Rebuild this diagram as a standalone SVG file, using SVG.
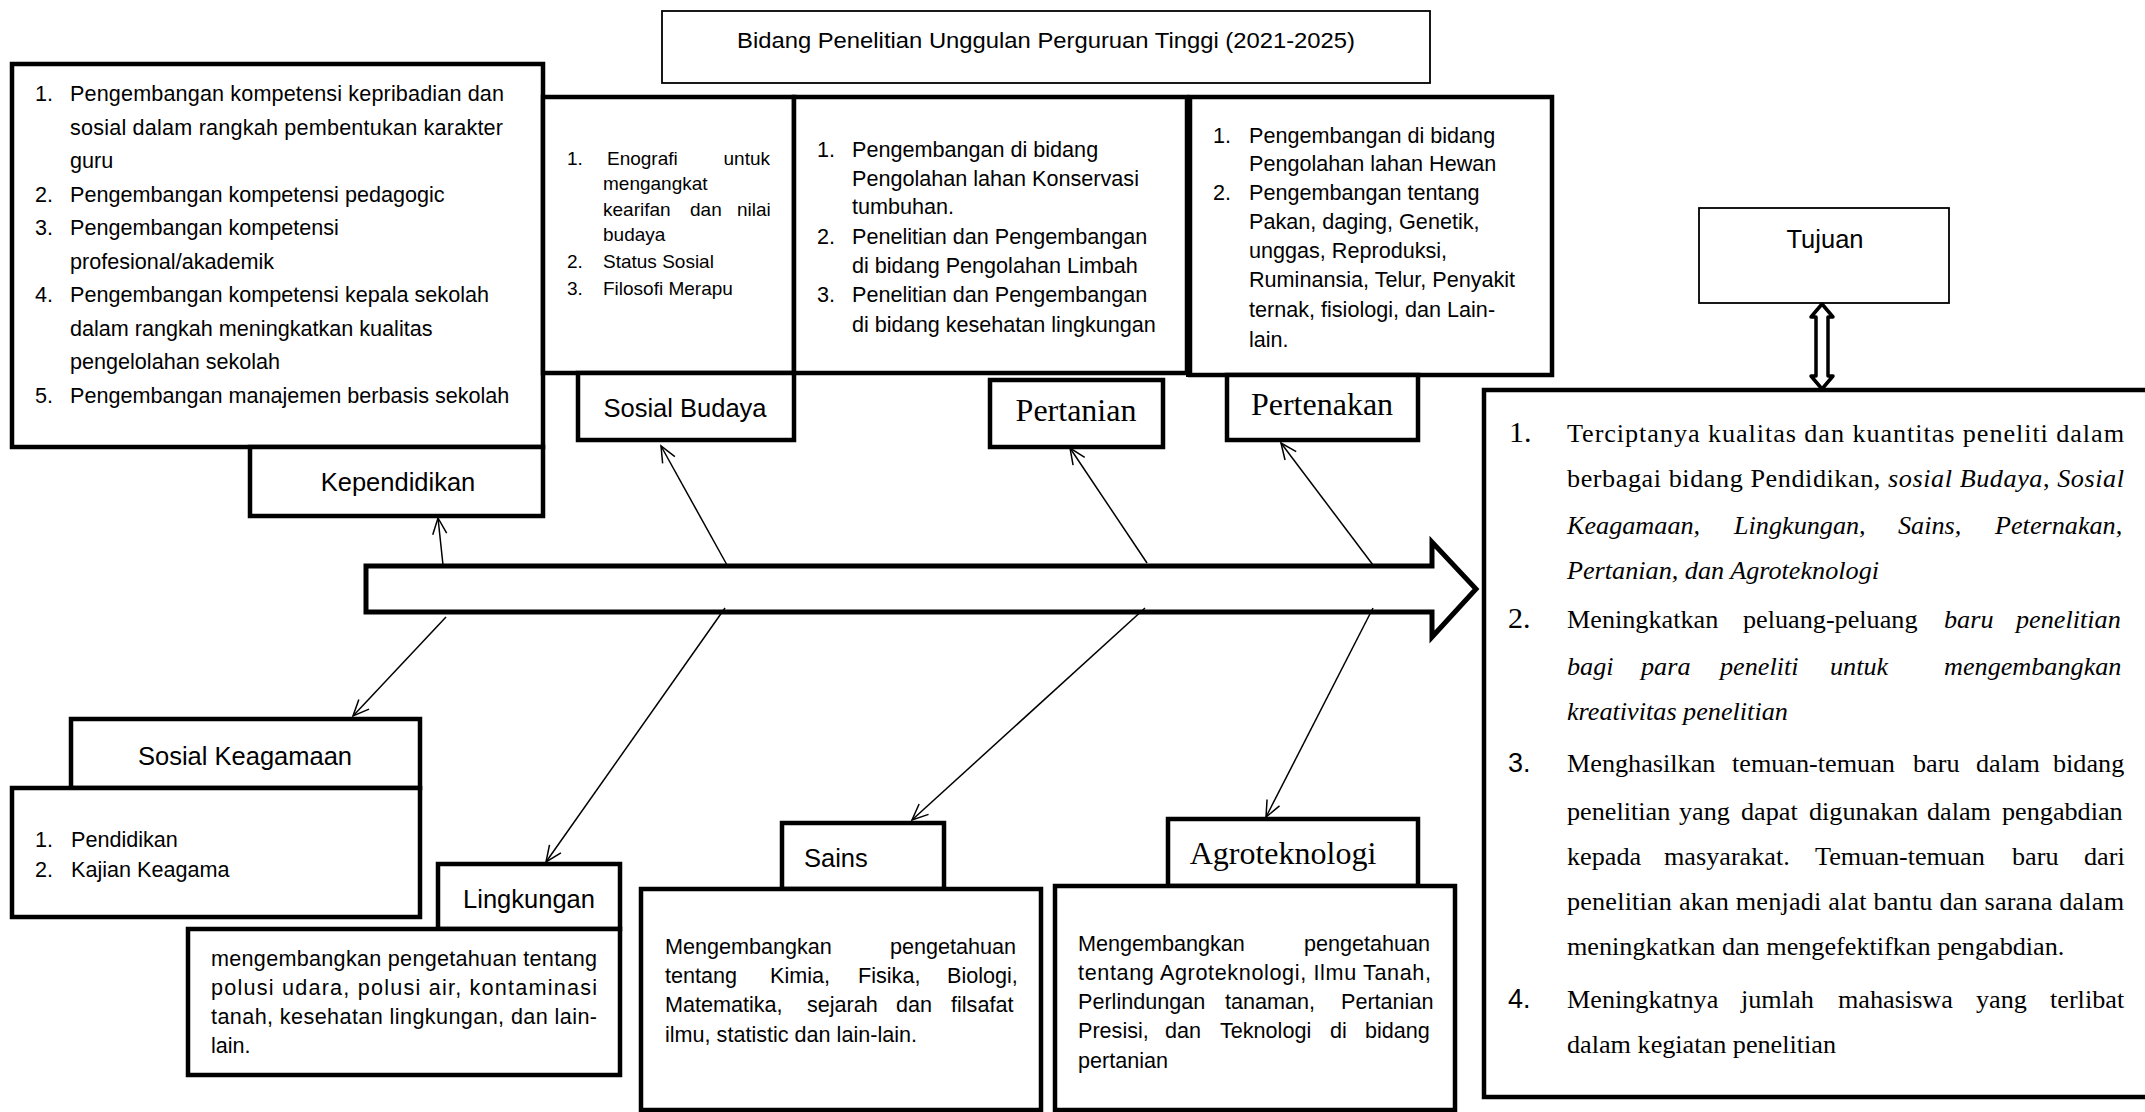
<svg xmlns="http://www.w3.org/2000/svg" width="2145" height="1112" viewBox="0 0 2145 1112">
<style>
.bx{fill:#fff;stroke:#000;stroke-width:4.5}
.th{fill:#fff;stroke:#000;stroke-width:1.8}
.t{font-family:'Liberation Sans',Arial,sans-serif;font-size:21.6px;fill:#000}
.ts{font-family:'Liberation Sans',Arial,sans-serif;font-size:19px;fill:#000}
.lb{font-family:'Liberation Sans',Arial,sans-serif;font-size:25.5px;fill:#000;text-anchor:middle}
.ls{font-family:'Liberation Serif','Times New Roman',serif;font-size:32px;fill:#000;text-anchor:middle}
.r{font-family:'Liberation Serif','Times New Roman',serif;font-size:26.2px;fill:#000}
.i{font-style:italic}
.n1{font-family:'Liberation Serif','Times New Roman',serif;font-size:30px;fill:#000}
.n2{font-family:'Liberation Sans',Arial,sans-serif;font-size:27px;fill:#000}
.cn{stroke:#000;stroke-width:1.5;fill:none}
</style>
<defs>
<marker id="ah" viewBox="-18 -9 20 18" refX="0" refY="0" markerWidth="20" markerHeight="18" markerUnits="userSpaceOnUse" orient="auto">
<path d="M-16,-7 L0,0 L-16,7" fill="none" stroke="#000" stroke-width="1.5"/>
</marker>
</defs>

<g id="title">
<rect class="th" x="662" y="11" width="768" height="72"/>
<text class="t" x="1046" y="48" text-anchor="middle" textLength="618" lengthAdjust="spacingAndGlyphs">Bidang Penelitian Unggulan Perguruan Tinggi (2021-2025)</text>
</g>

<g id="kependidikan-list">
<rect class="bx" x="12" y="64" width="531" height="383"/>
<text class="t" x="35" y="101">1.</text><text class="t" x="70" y="101" textLength="434" lengthAdjust="spacing">Pengembangan kompetensi kepribadian dan</text>
<text class="t" x="70" y="134.5" textLength="433" lengthAdjust="spacing">sosial dalam rangkah pembentukan karakter</text>
<text class="t" x="70" y="168">guru</text>
<text class="t" x="35" y="201.5">2.</text><text class="t" x="70" y="201.5">Pengembangan kompetensi pedagogic</text>
<text class="t" x="35" y="235">3.</text><text class="t" x="70" y="235">Pengembangan kompetensi</text>
<text class="t" x="70" y="268.5">profesional/akademik</text>
<text class="t" x="35" y="302">4.</text><text class="t" x="70" y="302">Pengembangan kompetensi kepala sekolah</text>
<text class="t" x="70" y="335.5">dalam rangkah meningkatkan kualitas</text>
<text class="t" x="70" y="369">pengelolahan sekolah</text>
<text class="t" x="35" y="402.5">5.</text><text class="t" x="70" y="402.5">Pengembangan manajemen berbasis sekolah</text>
</g>
<g id="kependidikan">
<rect class="bx" x="250" y="447" width="293" height="69"/>
<text class="lb" x="398" y="491">Kependidikan</text>
</g>

<g id="sosial-budaya-list">
<rect class="bx" x="543" y="97" width="251" height="276"/>
<text class="ts" x="567" y="165">1.</text><text class="ts" y="165"><tspan x="607">Enografi</tspan><tspan x="723.5">untuk</tspan></text>
<text class="ts" x="603" y="190">mengangkat</text>
<text class="ts" y="216"><tspan x="603">kearifan</tspan><tspan x="690">dan</tspan><tspan x="737">nilai</tspan></text>
<text class="ts" x="603" y="241">budaya</text>
<text class="ts" x="567" y="268">2.</text><text class="ts" x="603" y="268">Status Sosial</text>
<text class="ts" x="567" y="295">3.</text><text class="ts" x="603" y="295">Filosofi Merapu</text>
</g>
<g id="sosial-budaya">
<rect class="bx" x="578" y="373" width="216" height="67"/>
<text class="lb" x="685" y="417">Sosial Budaya</text>
</g>

<g id="pertanian-list">
<rect class="bx" x="794" y="97" width="393" height="276"/>
<text class="t" x="817" y="157">1.</text><text class="t" x="852" y="157">Pengembangan di bidang</text>
<text class="t" x="852" y="186">Pengolahan lahan Konservasi</text>
<text class="t" x="852" y="214">tumbuhan.</text>
<text class="t" x="817" y="244">2.</text><text class="t" x="852" y="244">Penelitian dan Pengembangan</text>
<text class="t" x="852" y="273">di bidang Pengolahan Limbah</text>
<text class="t" x="817" y="302">3.</text><text class="t" x="852" y="302">Penelitian dan Pengembangan</text>
<text class="t" x="852" y="332">di bidang kesehatan lingkungan</text>
</g>
<g id="pertanian">
<rect class="bx" x="990" y="380" width="173" height="67"/>
<text class="ls" x="1076" y="421">Pertanian</text>
</g>

<g id="pertenakan-list">
<rect class="bx" x="1190" y="97" width="362" height="278"/>
<line x1="1189" y1="95" x2="1189" y2="377" stroke="#000" stroke-width="6"/>
<text class="t" x="1213" y="143">1.</text><text class="t" x="1249" y="143">Pengembangan di bidang</text>
<text class="t" x="1249" y="171">Pengolahan lahan Hewan</text>
<text class="t" x="1213" y="200">2.</text><text class="t" x="1249" y="200">Pengembangan tentang</text>
<text class="t" x="1249" y="229">Pakan, daging, Genetik,</text>
<text class="t" x="1249" y="258">unggas, Reproduksi,</text>
<text class="t" x="1249" y="287">Ruminansia, Telur, Penyakit</text>
<text class="t" x="1249" y="317">ternak, fisiologi, dan Lain-</text>
<text class="t" x="1249" y="347">lain.</text>
</g>
<g id="pertenakan">
<rect class="bx" x="1227" y="375" width="191" height="65"/>
<text class="ls" x="1322" y="415">Pertenakan</text>
</g>

<g id="tujuan">
<rect class="th" x="1699" y="208" width="250" height="95"/>
<text class="lb" x="1825" y="248">Tujuan</text>
</g>

<g id="tujuan-list">
<rect class="bx" x="1484" y="390" width="700" height="707"/>
<text class="n1" x="1509" y="442">1.</text>
<text class="r" x="1567" y="442" textLength="557" lengthAdjust="spacing">Terciptanya kualitas dan kuantitas peneliti dalam</text>
<text class="r" x="1567" y="487" textLength="557" lengthAdjust="spacing">berbagai bidang Pendidikan, <tspan class="i">sosial Budaya</tspan>, <tspan class="i">Sosial</tspan></text>
<text class="r i" y="534"><tspan x="1567">Keagamaan,</tspan><tspan x="1734">Lingkungan,</tspan><tspan x="1898">Sains,</tspan><tspan x="1995">Peternakan,</tspan></text>
<text class="r i" x="1567" y="579">Pertanian, dan Agroteknologi</text>
<text class="n1" x="1508" y="628">2.</text>
<text class="r" y="628"><tspan x="1567">Meningkatkan</tspan><tspan x="1743">peluang-peluang</tspan><tspan x="1944" class="i">baru</tspan><tspan x="2016" class="i">penelitian</tspan></text>
<text class="r i" y="675"><tspan x="1567">bagi</tspan><tspan x="1641">para</tspan><tspan x="1720">peneliti</tspan><tspan x="1830">untuk</tspan><tspan x="1944">mengembangkan</tspan></text>
<text class="r i" x="1567" y="720">kreativitas penelitian</text>
<text class="n2" x="1508" y="772">3.</text>
<text class="r" y="772"><tspan x="1567">Menghasilkan</tspan><tspan x="1732">temuan-temuan</tspan><tspan x="1913">baru</tspan><tspan x="1976">dalam</tspan><tspan x="2053">bidang</tspan></text>
<text class="r" y="820"><tspan x="1567">penelitian</tspan><tspan x="1679">yang</tspan><tspan x="1741">dapat</tspan><tspan x="1809">digunakan</tspan><tspan x="1927">dalam</tspan><tspan x="2002">pengabdian</tspan></text>
<text class="r" y="865"><tspan x="1567">kepada</tspan><tspan x="1664">masyarakat.</tspan><tspan x="1815">Temuan-temuan</tspan><tspan x="2012">baru</tspan><tspan x="2084">dari</tspan></text>
<text class="r" x="1567" y="910" textLength="557" lengthAdjust="spacing">penelitian akan menjadi alat bantu dan sarana dalam</text>
<text class="r" x="1567" y="955">meningkatkan dan mengefektifkan pengabdian.</text>
<text class="n2" x="1508" y="1008">4.</text>
<text class="r" y="1008"><tspan x="1567">Meningkatnya</tspan><tspan x="1741">jumlah</tspan><tspan x="1838">mahasiswa</tspan><tspan x="1976">yang</tspan><tspan x="2050">terlibat</tspan></text>
<text class="r" x="1567" y="1053">dalam kegiatan penelitian</text>
</g>

<g id="sosial-keagamaan">
<rect class="bx" x="71" y="719" width="349" height="69"/>
<text class="lb" x="245" y="765">Sosial Keagamaan</text>
</g>
<g id="sosial-keagamaan-list">
<rect class="bx" x="12" y="788" width="408" height="129"/>
<text class="t" x="35" y="847">1.</text><text class="t" x="71" y="847">Pendidikan</text>
<text class="t" x="35" y="877">2.</text><text class="t" x="71" y="877">Kajian Keagama</text>
</g>

<g id="lingkungan">
<rect class="bx" x="438" y="864" width="182" height="65"/>
<text class="lb" x="529" y="908">Lingkungan</text>
</g>
<g id="lingkungan-text">
<rect class="bx" x="188" y="929" width="432" height="146"/>
<text class="t" x="211" y="966" textLength="386" lengthAdjust="spacing">mengembangkan pengetahuan tentang</text>
<text class="t" x="211" y="995" textLength="386" lengthAdjust="spacing">polusi udara, polusi air, kontaminasi</text>
<text class="t" x="211" y="1024" textLength="386" lengthAdjust="spacing">tanah, kesehatan lingkungan, dan lain-</text>
<text class="t" x="211" y="1053">lain.</text>
</g>

<g id="sains">
<rect class="bx" x="782" y="823" width="162" height="66"/>
<text class="lb" x="804" y="867" style="text-anchor:start">Sains</text>
</g>
<g id="sains-text">
<rect class="bx" x="641" y="889" width="400" height="221"/>
<text class="t" y="954"><tspan x="665">Mengembangkan</tspan><tspan x="890">pengetahuan</tspan></text>
<text class="t" y="983"><tspan x="665">tentang</tspan><tspan x="770">Kimia,</tspan><tspan x="858">Fisika,</tspan><tspan x="947">Biologi,</tspan></text>
<text class="t" y="1012"><tspan x="665">Matematika,</tspan><tspan x="807">sejarah</tspan><tspan x="896">dan</tspan><tspan x="951">filsafat</tspan></text>
<text class="t" x="665" y="1042">ilmu, statistic dan lain-lain.</text>
</g>

<g id="agroteknologi">
<rect class="bx" x="1168" y="819" width="250" height="67"/>
<text class="ls" x="1283" y="864">Agroteknologi</text>
</g>
<g id="agroteknologi-text">
<rect class="bx" x="1055" y="886" width="400" height="224"/>
<text class="t" y="951"><tspan x="1078">Mengembangkan</tspan><tspan x="1304">pengetahuan</tspan></text>
<text class="t" x="1078" y="980" textLength="353" lengthAdjust="spacing">tentang Agroteknologi, Ilmu Tanah,</text>
<text class="t" y="1009"><tspan x="1078">Perlindungan</tspan><tspan x="1225">tanaman,</tspan><tspan x="1341">Pertanian</tspan></text>
<text class="t" y="1038"><tspan x="1078">Presisi,</tspan><tspan x="1165">dan</tspan><tspan x="1220">Teknologi</tspan><tspan x="1330">di</tspan><tspan x="1365">bidang</tspan></text>
<text class="t" x="1078" y="1068">pertanian</text>
</g>

<g id="main-arrow">
<polygon points="366,566 1432,566 1432,542 1476,589 1432,637 1432,612 366,612" fill="#fff" stroke="#000" stroke-width="5" stroke-linejoin="miter"/>
</g>

<g id="connectors">
<line class="cn" x1="443" y1="565" x2="438" y2="518" marker-end="url(#ah)"/>
<line class="cn" x1="727" y1="565" x2="661" y2="446" marker-end="url(#ah)"/>
<line class="cn" x1="1147" y1="563" x2="1070" y2="448" marker-end="url(#ah)"/>
<line class="cn" x1="1373" y1="565" x2="1281" y2="443" marker-end="url(#ah)"/>
<line class="cn" x1="446" y1="617" x2="353" y2="716" marker-end="url(#ah)"/>
<line class="cn" x1="725" y1="608" x2="546" y2="862" marker-end="url(#ah)"/>
<line class="cn" x1="1145" y1="608" x2="912" y2="820" marker-end="url(#ah)"/>
<line class="cn" x1="1373" y1="608" x2="1266" y2="817" marker-end="url(#ah)"/>
<polygon points="1822,304 1833,317 1828,317 1828,376 1833,376 1822,389 1811,376 1816,376 1816,317 1811,317" fill="#fff" stroke="#000" stroke-width="3.5" stroke-linejoin="round"/>
</g>
</svg>
